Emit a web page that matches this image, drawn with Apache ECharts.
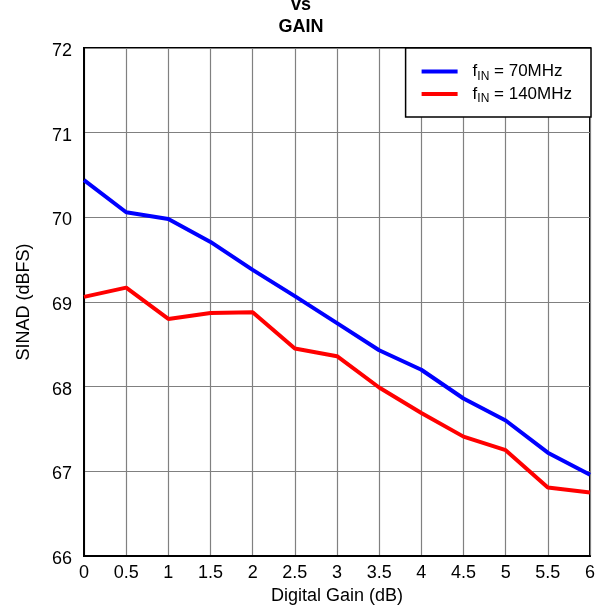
<!DOCTYPE html>
<html><head><meta charset="utf-8">
<script src="https://cdn.jsdelivr.net/npm/echarts@6/dist/echarts.min.js"></script>
<style>html,body{margin:0;padding:0;background:#fff}#c{width:602px;height:610px}</style>
</head><body><div id="c"></div>
<script>
const gains = [0, 0.5, 1, 1.5, 2, 2.5, 3, 3.5, 4, 4.5, 5, 5.5, 6];
const sinad70 = [70.44, 70.06, 69.98, 69.71, 69.38, 69.07, 68.75, 68.43, 68.20, 67.86, 67.60, 67.22, 66.96];
const sinad140 = [69.06, 69.17, 68.80, 68.87, 68.88, 68.45, 68.36, 67.99, 67.69, 67.41, 67.25, 66.81, 66.75];
const seriesNames = ['70', '140'];
const FONT = 'Liberation Sans, Arial, sans-serif';
const chart = echarts.init(document.getElementById('c'));
const pair = (xs, ys) => xs.map((x, i) => [x, ys[i]]);
chart.setOption({
  animation: false,
  title: {
    text: 'vs\nGAIN', left: 'center', top: -11,
    textStyle: { fontFamily: FONT, fontWeight: 'bold', fontSize: 18, lineHeight: 22, color: '#000' }
  },
  grid: { left: 84, right: 12, top: 48, bottom: 54, show: true, borderColor: '#000', borderWidth: 2, containLabel: false },
  legend: {
    orient: 'vertical', right: 11, top: 48, padding: [15, 19, 12, 16], itemGap: 3,
    backgroundColor: '#fff', borderColor: '#000', borderWidth: 1.5,
    itemWidth: 36, itemHeight: 4, icon: 'rect',
    data: seriesNames,
    formatter: n => '{p|f}{s|IN}{f| = ' + n + 'MHz}',
    textStyle: { rich: {
      p: { fontFamily: FONT, fontSize: 17, color: '#000', lineHeight: 22, padding: [0, 0, 0, 10] },
      f: { fontFamily: FONT, fontSize: 17, color: '#000', lineHeight: 22 },
      s: { fontFamily: FONT, fontSize: 12, color: '#000', lineHeight: 22, verticalAlign: 'bottom', padding: [7, 0, 0, 0] }
    } }
  },
  xAxis: {
    type: 'value', min: 0, max: 6, interval: 0.5,
    name: 'Digital Gain (dB)', nameLocation: 'middle', nameGap: 28,
    nameTextStyle: { fontFamily: FONT, fontSize: 18, color: '#000' },
    axisLine: { lineStyle: { color: '#000', width: 2 } },
    axisTick: { show: false },
    axisLabel: { fontFamily: FONT, fontSize: 18, color: '#000', margin: 8 },
    splitLine: { lineStyle: { color: '#808080', width: 1.2 } }
  },
  yAxis: {
    type: 'value', min: 66, max: 72, interval: 1,
    name: 'SINAD (dBFS)', nameLocation: 'middle', nameGap: 51, nameRotate: 90,
    nameTextStyle: { fontFamily: FONT, fontSize: 18, color: '#000' },
    axisLine: { lineStyle: { color: '#000', width: 2 } },
    axisTick: { show: false },
    axisLabel: {
      fontFamily: FONT, fontSize: 18, color: '#000', margin: 12,
      formatter: '{a|{value}}',
      rich: { a: { fontFamily: FONT, fontSize: 18, color: '#000', padding: [6, 0, 0, 0] } }
    },
    splitLine: { lineStyle: { color: '#808080', width: 1.2 } }
  },
  series: [
    { name: seriesNames[0], type: 'line', data: pair(gains, sinad70), symbol: 'none', lineStyle: { color: '#0000ff', width: 4 }, itemStyle: { color: '#0000ff' } },
    { name: seriesNames[1], type: 'line', data: pair(gains, sinad140), symbol: 'none', lineStyle: { color: '#ff0000', width: 4 }, itemStyle: { color: '#ff0000' } }
  ]
});
</script></body></html>
